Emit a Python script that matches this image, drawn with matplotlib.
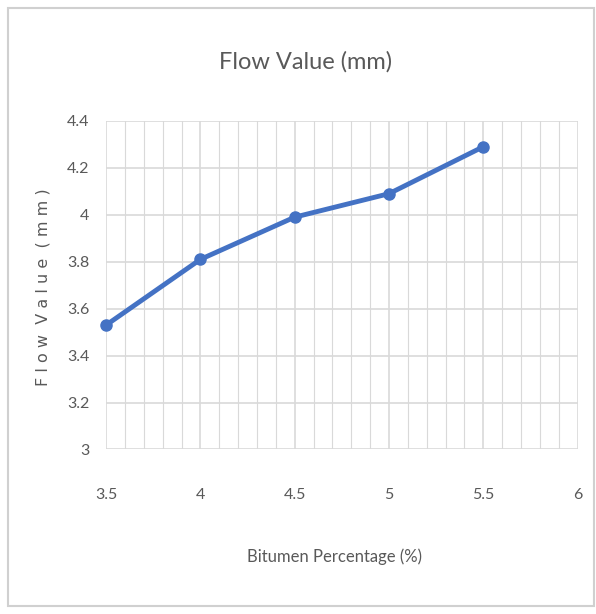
import matplotlib
matplotlib.use('Agg')
import matplotlib.pyplot as plt
from matplotlib.patches import Rectangle
from matplotlib.ticker import MultipleLocator

bitumen = [3.5, 4.0, 4.5, 5.0, 5.5]
flow = [3.53, 3.81, 3.99, 4.09, 4.29]
x_ticks = [3.5, 4, 4.5, 5, 5.5, 6]
x_labels = ['3.5', '4', '4.5', '5', '5.5', '6']
y_ticks = [3, 3.2, 3.4, 3.6, 3.8, 4, 4.2, 4.4]
y_labels = ['3', '3.2', '3.4', '3.6', '3.8', '4', '4.2', '4.4']

fam = ['Lato', 'DejaVu Sans']
grid_c = '#d9d9d9'
txt_c = '#595959'

fig = plt.figure(figsize=(5.96, 6.14), dpi=100)
fig.patches.append(Rectangle((8 / 596, 8 / 614), 586 / 596, 598 / 614,
                             transform=fig.transFigure, fill=False,
                             edgecolor='#d0d0d0', linewidth=1.5))

ax = fig.add_axes([0.178, 0.268, 0.791, 0.535])
ax.set_xlim(3.5, 6)
ax.set_ylim(3, 4.4)
ax.set_xticks(x_ticks)
ax.set_xticklabels(x_labels, family=fam, fontsize=11.5, color=txt_c)
ax.set_yticks(y_ticks)
ax.set_yticklabels(y_labels, family=fam, fontsize=11.5, color=txt_c)
ax.xaxis.set_minor_locator(MultipleLocator(0.1))
ax.grid(True, which='major', color=grid_c, linewidth=1.2)
ax.grid(True, which='minor', axis='x', color=grid_c, linewidth=0.8)
ax.tick_params(axis='x', which='both', length=0, pad=28)
ax.tick_params(axis='y', which='both', length=0, pad=12)
for s in ax.spines.values():
    s.set_visible(False)
ax.set_axisbelow(True)

ax.plot(bitumen, flow, color='#4472c4', linewidth=3.5, marker='o',
        markersize=8, clip_on=False, zorder=3)

fig.text(0.513, 0.9, 'Flow Value (mm)', family=fam, fontsize=17,
         color=txt_c, ha='center', va='center')
fig.text(0.562, 0.093, 'Bitumen Percentage (%)', family=fam, fontsize=12,
         color=txt_c, ha='center', va='center')
fig.text(0.072, 0.533, 'F l o w  V a l u e  ( m m )', fontsize=11.5,
         color=txt_c, ha='center', va='center', rotation=90)

fig.savefig('out.png', dpi=100)
